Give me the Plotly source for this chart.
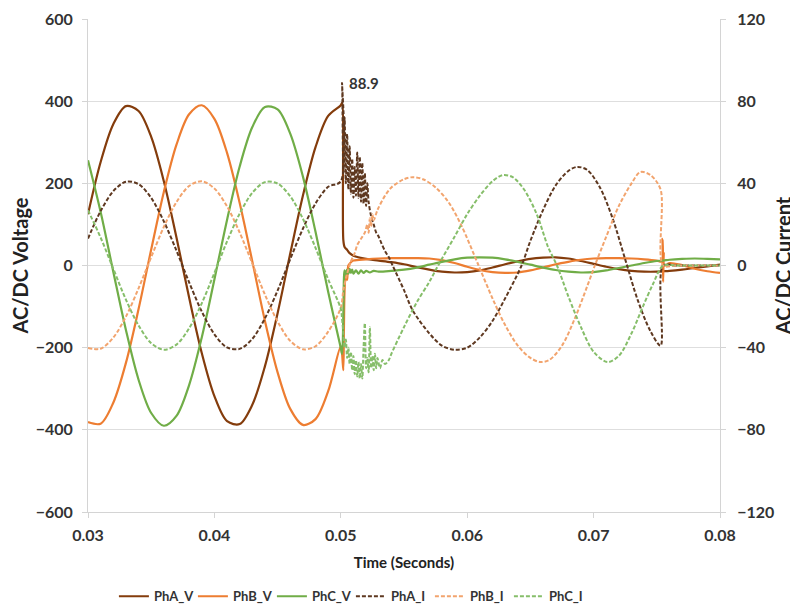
import plotly.graph_objects as go

# ---------------- data ----------------
t_pre = [0.030, 0.031, 0.032, 0.033, 0.034, 0.035, 0.036, 0.037, 0.038, 0.039, 0.040,
         0.041, 0.042, 0.043, 0.044, 0.045, 0.046, 0.047, 0.048, 0.049, 0.050]

# Voltages (left axis)
phA_v_pre = [125, 252, 344, 388, 376, 313, 205, 68, -78, -213, -318, -379, -386, -339, -245, -116, 29, 170, 288, 364, 390]
phA_v_t_post = [0.0501, 0.0502, 0.0503, 0.0505, 0.0507, 0.051, 0.052, 0.053, 0.054, 0.055, 0.056, 0.057, 0.058,
                0.059, 0.060, 0.061, 0.062, 0.063, 0.064, 0.065, 0.066, 0.067, 0.068, 0.069, 0.070, 0.071,
                0.072, 0.073, 0.074, 0.075, 0.0755, 0.076, 0.077, 0.078, 0.079, 0.080]
phA_v_post = [396, 62, 45, 38, 30, 24, 16, 12, 8, 3, -4, -10, -15, -17, -16, -12, -5, 3, 10, 16, 19, 20, 17, 11,
              4, -3, -9, -13, -15, -15, -14, -13, -10, -6, -2, 2]

phB_v_pre = [-381, -385, -334, -237, -106, 39, 179, 294, 368, 390, 357, 274, 152, 10, -135, -260, -349, -388, -374, -306, -196]
phB_v_t_post = [0.0501, 0.0502, 0.05025, 0.0503, 0.0504, 0.0505, 0.0506, 0.0508, 0.051, 0.052, 0.053, 0.054, 0.055,
                0.056, 0.057, 0.058, 0.059, 0.060, 0.061, 0.062, 0.063, 0.064, 0.065, 0.066, 0.067, 0.068, 0.069,
                0.070, 0.071, 0.072, 0.073, 0.074, 0.075, 0.0754, 0.07545, 0.0755, 0.07555, 0.0756, 0.076, 0.077,
                0.078, 0.079, 0.080]
phB_v_post = [-215, -255, -150, -60, -20, -35, 0, 8, 12, 15, 17, 18, 18, 18, 17, 13, 6, -3, -11, -16, -18, -17, -12,
              -5, 3, 9, 14, 17, 18, 18, 17, 15, 12, 10, 65, -40, 30, 0, 6, 1, -8, -14, -18]

phC_v_pre = [256, 130, -15, -157, -278, -359, -390, -366, -291, -175, -34, 111, 241, 337, 386, 380, 321, 217, 82, -64, -201]
phC_v_t_post = [0.0501, 0.0502, 0.05025, 0.0503, 0.0504, 0.0505, 0.0506, 0.0507, 0.0508, 0.0509, 0.051, 0.0512,
                0.0514, 0.0516, 0.0518, 0.052, 0.0523, 0.0526, 0.053, 0.054, 0.055, 0.056, 0.057, 0.058, 0.059,
                0.060, 0.061, 0.062, 0.063, 0.064, 0.065, 0.066, 0.067, 0.068, 0.069, 0.070, 0.071, 0.072, 0.073,
                0.074, 0.075, 0.0755, 0.076, 0.077, 0.078, 0.079, 0.080]
phC_v_post = [-215, -120, -30, -12, -22, -10, -20, -8, -18, -10, -20, -12, -20, -12, -18, -13, -17, -13, -15, -13,
              -10, -5, 2, 9, 15, 19, 20, 19, 15, 9, 2, -5, -11, -15, -17, -16, -12, -6, 0, 6, 11, 12, 14, 16, 17,
              16, 15]

# Currents (right axis)
phA_i_pre = [13.1, 26.5, 36.2, 40.8, 39.6, 32.9, 21.5, 7.2, -8.2, -22.4, -33.5, -39.9, -40.6, -35.7, -25.7, -12.2,
             3.1, 17.9, 30.2, 38.3, 41.0]
phA_i_t_post = [0.0501, 0.0502, 0.0503, 0.0504, 0.0505, 0.0506, 0.0507, 0.0508, 0.0509, 0.0510, 0.0511, 0.0512,
                0.0513, 0.0514, 0.0515, 0.0516, 0.0517, 0.0518, 0.0519, 0.0520, 0.0521, 0.0522, 0.0524, 0.0526,
                0.0528, 0.053, 0.0532, 0.0535, 0.0538, 0.0541, 0.055, 0.0557, 0.057, 0.058, 0.059, 0.060, 0.061,
                0.062, 0.063, 0.0643, 0.065, 0.066, 0.067, 0.068, 0.0687, 0.0695, 0.0705, 0.0715, 0.0725, 0.0735,
                0.0745, 0.0753, 0.0755, 0.0765, 0.080]
phA_i_post = [88.9, 45, 72, 40, 64, 37, 58, 35, 52, 33, 48, 34, 55, 33, 53, 31, 50, 30, 45, 29, 40, 31, 24, 20,
              16, 14, 11, 7, 4, 0, -12, -22, -33, -39, -41, -40, -35, -27, -16, 0, 12, 27, 39, 46, 48, 46.5, 38,
              23, 3, -17, -32, -39, 0, 0, 0]

phB_i_pre = [-40.1, -40.5, -35.1, -24.9, -11.1, 4.1, 18.8, 30.9, 38.7, 41.0, 37.5, 28.8, 16.0, 1.0, -14.2, -27.3,
             -36.7, -40.8, -39.3, -32.2, -20.6]
phB_i_t_post = [0.0502, 0.0505, 0.0508, 0.0511, 0.0513, 0.0516, 0.0519, 0.0521, 0.0522, 0.0523, 0.0524, 0.0525,
                0.0526, 0.0529, 0.0535, 0.054, 0.055, 0.0557, 0.0565, 0.0575, 0.0585, 0.0595, 0.0609, 0.062, 0.063,
                0.064, 0.065, 0.0658, 0.0665, 0.0675, 0.0685, 0.0695, 0.0701, 0.071, 0.072, 0.073, 0.0737, 0.0745,
                0.0753, 0.0755, 0.0765, 0.080]
phB_i_post = [-12, -4, 2, 6, 10, 13, 16, 20, 16, 23, 19, 25, 22, 27, 34, 38, 42, 43, 42, 38, 31, 20, 0, -16, -29,
              -39, -45, -47, -46, -39, -26, -10, 0, 14, 29, 40, 45.5, 44, 37, 0, 0, 0]

phC_i_pre = [26.9, 13.6, -1.6, -16.6, -29.2, -37.8, -41.0, -38.5, -30.6, -18.4, -3.6, 11.7, 25.3, 35.4, 40.6, 39.9,
             33.7, 22.8, 8.6, -6.7, -21.1]
phC_i_t_post = [0.0501, 0.0502, 0.0503, 0.0504, 0.0505, 0.0506, 0.0507, 0.0508, 0.0509, 0.0510, 0.0511, 0.0512,
                0.0513, 0.0514, 0.0515, 0.0516, 0.0517, 0.0518, 0.0519, 0.0520, 0.0521, 0.0522, 0.0523, 0.0524,
                0.0525, 0.0526, 0.0527, 0.0528, 0.0529, 0.0531, 0.0533, 0.0535, 0.0538, 0.054, 0.055, 0.056, 0.057,
                0.0577, 0.059, 0.060, 0.061, 0.062, 0.0628, 0.0636, 0.0645, 0.0655, 0.0664, 0.0671, 0.068, 0.069,
                0.070, 0.0711, 0.072, 0.073, 0.0739, 0.0747, 0.0755, 0.0765, 0.080]
phC_i_post = [-26, -33, -40, -36, -45, -40, -48, -42, -51, -44, -53, -46, -54, -47, -55, -48, -55, -40, -28, -50,
              -45, -52, -30, -50, -44, -51, -43, -50, -45, -50, -46, -48, -46, -43, -30, -18, -8, 0, 14, 25, 34, 41,
              44, 43, 37, 25, 9, 0, -15, -30, -42, -47, -44, -33, -20, -9, 0, 0, 0]

series_names = ["PhA_V", "PhB_V", "PhC_V", "PhA_I", "PhB_I", "PhC_I"]
x_ticks = [0.03, 0.04, 0.05, 0.06, 0.07, 0.08]
y_left_ticks = [-600, -400, -200, 0, 200, 400, 600]
y_right_ticks = [-120, -80, -40, 0, 40, 80, 120]
peak_label = 88.9
peak_time = 0.0501

# ---------------- figure ----------------
colors = {
    "PhA_V": "#843C0C", "PhB_V": "#ED7D31", "PhC_V": "#70AD47",
    "PhA_I": "#5E3820", "PhB_I": "#F2A46E", "PhC_I": "#86BE6A",
}

series = [
    ("PhA_V", t_pre + phA_v_t_post, phA_v_pre + phA_v_post, "y"),
    ("PhB_V", t_pre + phB_v_t_post, phB_v_pre + phB_v_post, "y"),
    ("PhC_V", t_pre + phC_v_t_post, phC_v_pre + phC_v_post, "y"),
    ("PhA_I", t_pre + phA_i_t_post, phA_i_pre + phA_i_post, "y2"),
    ("PhB_I", t_pre + phB_i_t_post, phB_i_pre + phB_i_post, "y2"),
    ("PhC_I", t_pre + phC_i_t_post, phC_i_pre + phC_i_post, "y2"),
]

fig = go.Figure()
for name, xs, ys, yax in series:
    is_current = yax == "y2"
    fig.add_trace(go.Scatter(
        x=xs, y=ys, name=name, yaxis=yax, mode="lines",
        line=dict(color=colors[name], width=2 if is_current else 2.2,
                  dash="4px,2px" if is_current else "solid", shape="spline", smoothing=0.9),
    ))

tick_font = dict(family="Lato", size=16, color="#333333", weight="bold")
title_font = dict(family="Lato", size=20, color="#222222", weight="bold")
axis_col = "#d4d4d4"

# the page adds an 8px body margin, so the figure is 790x598 and the margins are shifted accordingly
fig.update_layout(
    width=790, height=598,
    margin=dict(l=80, r=78, t=11, b=94, autoexpand=False),
    paper_bgcolor="white", plot_bgcolor="white",
    showlegend=True,
    legend=dict(orientation="h", x=0.416, y=-0.171, xanchor="center", yanchor="middle",
                font=dict(family="Lato", size=13, color="#333333", weight="bold"),
                traceorder="normal", itemwidth=30, entrywidth=34),
    xaxis=dict(range=[0.03, 0.08], tickvals=x_ticks, ticktext=[f"{v:.2f}" for v in x_ticks],
               showgrid=False, zeroline=False, showline=True, linecolor=axis_col, linewidth=1,
               ticks="outside", ticklen=5, tickcolor=axis_col, tickfont=tick_font, automargin=False,
               ticklabelstandoff=4,
               title=dict(text="Time (Seconds)", font=dict(family="Lato", size=15, color="#222222", weight="bold"),
                          standoff=14)),
    yaxis=dict(range=[-600, 600], tickvals=y_left_ticks, showgrid=True, gridcolor="#dedede", gridwidth=1,
               zeroline=False, showline=True, linecolor=axis_col, ticks="outside", ticklen=5,
               tickcolor=axis_col, tickfont=tick_font, ticklabelstandoff=6, automargin=False,
               title=dict(text="AC/DC Voltage", font=title_font, standoff=8)),
    yaxis2=dict(range=[-120, 120], tickvals=y_right_ticks, overlaying="y", side="right", showgrid=False,
                zeroline=False, showline=True, linecolor=axis_col, ticks="outside", ticklen=5,
                tickcolor=axis_col, tickfont=tick_font, ticklabelstandoff=8, automargin=False,
                title=dict(text="AC/DC Current", font=title_font, standoff=3)),
    annotations=[dict(x=peak_time + 0.0004, y=peak_label, xref="x", yref="y2", text=f"{peak_label}",
                      showarrow=False, xanchor="left", yanchor="middle",
                      font=dict(family="Lato", size=15, color="#333333", weight="bold"))],
)

fig.write_html("out.html")
